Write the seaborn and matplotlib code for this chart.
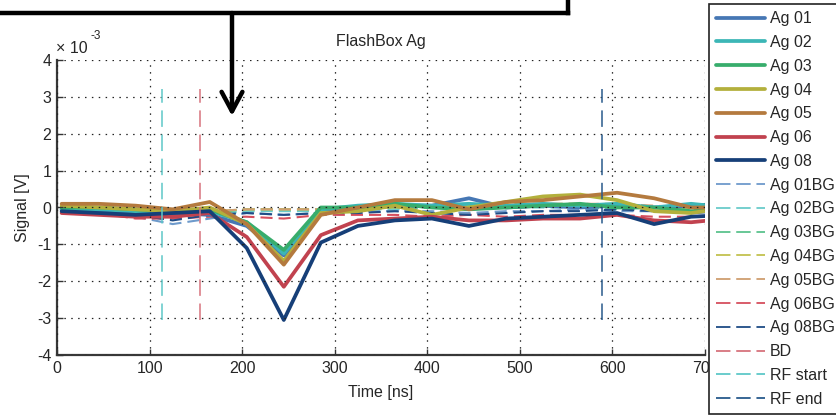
import numpy as np
import pandas as pd
import matplotlib
matplotlib.use("Agg")
import matplotlib.pyplot as plt
from matplotlib.lines import Line2D
import seaborn as sns

sns.set_style("white")
plt.rcParams['font.family'] = ['Liberation Sans', 'DejaVu Sans']

# ---- data (signal in units of 1e-3 V) ----
time_ns = [5, 45, 85, 125, 165, 205, 245, 285, 325, 365, 405, 445, 485, 525, 565, 605, 645, 685, 725]

ag01 = [-0.05, -0.1, -0.1, -0.15, -0.2, -0.5, -1.3, -0.1, -0.05, 0.05, 0.05, 0.25, 0.0, 0.05, 0.0, 0.05, 0.0, 0.05, 0.1]
ag02 = [-0.05, -0.05, -0.1, -0.1, -0.1, -0.4, -1.25, -0.05, 0.05, 0.1, 0.05, 0.1, 0.05, 0.1, 0.05, 0.1, 0.0, 0.1, 0.0]
ag03 = [0.0, 0.0, -0.05, -0.1, -0.05, -0.4, -1.15, 0.0, 0.0, 0.1, 0.0, -0.05, 0.0, 0.05, 0.1, 0.0, 0.0, -0.1, -0.05]
ag04 = [0.05, 0.0, -0.05, -0.1, 0.0, -0.45, -1.45, -0.15, -0.1, 0.05, -0.2, 0.0, 0.15, 0.3, 0.35, 0.2, -0.1, -0.15, 0.0]
ag05 = [0.1, 0.1, 0.05, -0.05, 0.15, -0.45, -1.55, -0.2, 0.0, 0.2, 0.2, -0.05, 0.15, 0.2, 0.3, 0.4, 0.25, 0.0, 0.0]
ag06 = [-0.15, -0.2, -0.25, -0.25, -0.15, -0.8, -2.15, -0.75, -0.35, -0.3, -0.25, -0.35, -0.35, -0.3, -0.3, -0.2, -0.35, -0.4, -0.3]
ag08 = [-0.1, -0.15, -0.2, -0.15, -0.1, -1.1, -3.05, -0.95, -0.5, -0.35, -0.3, -0.5, -0.3, -0.25, -0.2, -0.15, -0.45, -0.25, -0.2]

ag01bg = [-0.1, -0.15, -0.25, -0.45, -0.3, -0.15, -0.2, -0.15, -0.1, -0.1, -0.1, -0.15, -0.1, -0.1, -0.05, -0.1, -0.1, -0.05, -0.1]
ag02bg = [-0.05, -0.1, -0.15, -0.2, -0.2, -0.1, -0.1, -0.1, -0.05, -0.05, 0.0, -0.05, 0.0, 0.0, 0.0, -0.05, 0.0, 0.0, 0.0]
ag03bg = [-0.05, -0.05, -0.1, -0.15, -0.15, -0.05, -0.05, -0.05, -0.05, 0.0, 0.0, 0.0, 0.0, 0.05, 0.0, 0.0, 0.0, -0.05, 0.0]
ag04bg = [0.0, -0.05, -0.1, -0.15, -0.1, -0.05, -0.05, -0.05, 0.0, 0.0, 0.05, 0.05, 0.1, 0.1, 0.1, 0.05, 0.0, 0.0, 0.0]
ag05bg = [0.0, 0.0, -0.05, -0.15, -0.1, -0.05, -0.05, -0.05, 0.0, 0.05, 0.05, 0.0, 0.05, 0.1, 0.1, 0.1, 0.05, 0.0, 0.0]
ag06bg = [-0.1, -0.15, -0.3, -0.3, -0.25, -0.25, -0.3, -0.2, -0.2, -0.2, -0.25, -0.2, -0.25, -0.2, -0.2, -0.2, -0.25, -0.25, -0.2]
ag08bg = [-0.1, -0.15, -0.2, -0.35, -0.2, -0.15, -0.2, -0.15, -0.15, -0.1, -0.15, -0.2, -0.15, -0.1, -0.1, -0.05, -0.1, -0.15, -0.1]

signal_labels = ["Ag 01", "Ag 02", "Ag 03", "Ag 04", "Ag 05", "Ag 06", "Ag 08"]
signal_values = [ag01, ag02, ag03, ag04, ag05, ag06, ag08]
signal_colors = ["#4677b4", "#3cb6b6", "#38ad6c", "#b3b03c", "#b47a3e", "#c1424f", "#163f78"]

bg_labels = ["Ag 01BG", "Ag 02BG", "Ag 03BG", "Ag 04BG", "Ag 05BG", "Ag 06BG", "Ag 08BG"]
bg_values = [ag01bg, ag02bg, ag03bg, ag04bg, ag05bg, ag06bg, ag08bg]
bg_colors = ["#6e9acb", "#6accca", "#5cc38e", "#c3c24f", "#cf9e70", "#d64f5e", "#1f4c86"]

event_labels = ["BD", "RF start", "RF end"]
event_times = [155, 113, 589]
event_colors = ["#d7737d", "#5ec8c8", "#285a8c"]
event_ymin, event_ymax = -3.05, 3.2

xticks = [0, 100, 200, 300, 400, 500, 600, 700]
yticks = [-4, -3, -2, -1, 0, 1, 2, 3, 4]

# ---- figure ----
W, H = 837, 415
FS = 11.5
fig = plt.figure(figsize=(W / 100, H / 100), dpi=100)
ax = fig.add_axes([57 / W, 1 - 355 / H, 648 / W, 295 / H])

solid_lw = 2.7
bg_ls = (0, (5.8, 2.9))
bg_lw = 1.5
ev_ls = (0, (10.8, 5.0))
ev_lw = 1.1

rows = []
for lab, vals in zip(bg_labels + signal_labels, bg_values + signal_values):
    for t, v in zip(time_ns, vals):
        rows.append({"Time": t, "Signal": v, "Series": lab})
df = pd.DataFrame(rows)

for lab, col in zip(bg_labels, bg_colors):
    sub = df[df["Series"] == lab]
    sns.lineplot(data=sub, x="Time", y="Signal", ax=ax, color=col, lw=bg_lw,
                 linestyle=bg_ls, legend=False, estimator=None, sort=False)
for lab, col in zip(signal_labels, signal_colors):
    sub = df[df["Series"] == lab]
    sns.lineplot(data=sub, x="Time", y="Signal", ax=ax, color=col, lw=solid_lw,
                 legend=False, estimator=None, sort=False)
for t, col in zip(event_times, event_colors):
    ax.vlines(t, event_ymin, event_ymax, colors=col, lw=ev_lw, linestyles=[ev_ls], zorder=5)

ax.set_xlim(0, 700)
ax.set_ylim(-4, 4)
ax.set_xticks(xticks)
ax.set_yticks(yticks)
ax.set_xticklabels([str(v) for v in xticks], fontsize=FS)
ax.set_yticklabels([str(v) for v in yticks], fontsize=FS)
ax.tick_params(direction="in", length=4, width=1.0, color="#333333", pad=4,
               top=False, right=False, bottom=True, left=True)
for s in ["top", "right"]:
    ax.spines[s].set_visible(False)
for s in ["left", "bottom"]:
    ax.spines[s].set_color("#383838")
    ax.spines[s].set_linewidth(1.6)
ax.grid(True, color="#222222", linestyle=(0, (1.2, 4.3)), linewidth=0.9)
ax.set_axisbelow(False)

ax.set_xlabel("Time [ns]", fontsize=FS, labelpad=7)
ax.set_ylabel("Signal [V]", fontsize=FS, labelpad=5)
ax.set_title("FlashBox Ag", fontsize=FS, pad=10)

ax.text(-0.0015, 1.0237, "× 10", transform=ax.transAxes, fontsize=FS,
        va="baseline", ha="left")
ax.text(0.051, 1.071, "-3", transform=ax.transAxes, fontsize=8.5,
        va="baseline", ha="left")

# ---- legend ----
handles = []
for c in signal_colors:
    handles.append(Line2D([], [], color=c, lw=solid_lw))
for c in bg_colors:
    handles.append(Line2D([], [], color=c, lw=1.3, linestyle=(0, (8, 3.2))))
for c in event_colors:
    handles.append(Line2D([], [], color=c, lw=1.3, linestyle=(0, (8, 3.2))))
labels = signal_labels + bg_labels + event_labels
leg = fig.legend(handles, labels, loc="upper left",
                 bbox_to_anchor=(709 / W, 1 - 4 / H), bbox_transform=fig.transFigure,
                 fontsize=FS, frameon=True, fancybox=False, framealpha=1,
                 edgecolor="#222222", borderpad=0.45, labelspacing=0.55,
                 handlelength=3.07, handletextpad=0.3, borderaxespad=0)
leg.get_frame().set_linewidth(1.2)
leg.set_zorder(20)

# ---- black annotation box and arrow ----
fig.add_artist(Line2D([0, 568 / W], [1 - 13 / H, 1 - 13 / H], color="black", lw=3.2,
                      transform=fig.transFigure, solid_capstyle="projecting"))
fig.add_artist(Line2D([568 / W, 568 / W], [1 - 13 / H, 1.0], color="black", lw=3.2,
                      transform=fig.transFigure, solid_capstyle="projecting"))
ax.annotate("", xy=(232 / W, 1 - 116 / H), xytext=(232 / W, 1 - 13 / H),
            xycoords="figure fraction", textcoords="figure fraction",
            arrowprops=dict(arrowstyle="->,head_length=1.4,head_width=0.75",
                            color="black", lw=3.2, shrinkA=0, shrinkB=0),
            annotation_clip=False, zorder=30)

fig.savefig("out.png", dpi=100)
